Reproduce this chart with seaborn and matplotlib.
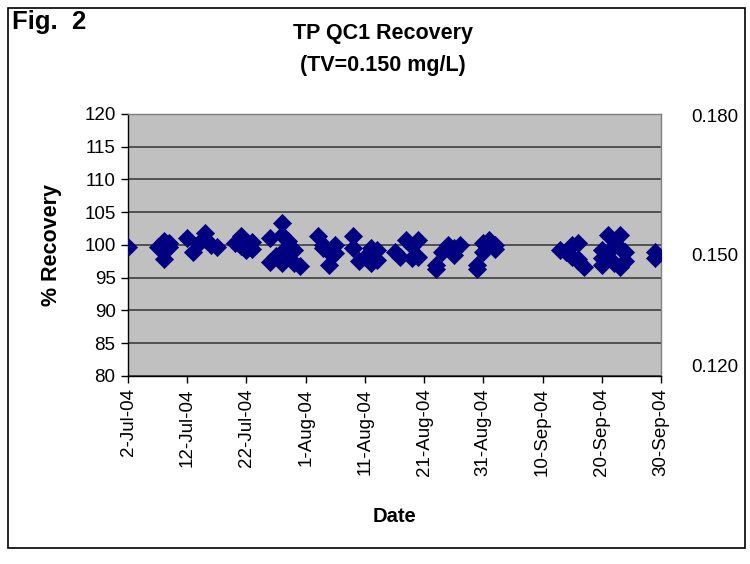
import numpy as np
import pandas as pd
import matplotlib
matplotlib.use("Agg")
import matplotlib.pyplot as plt
import matplotlib.dates as mdates
from matplotlib.patches import Rectangle
import seaborn as sns

# ---- data ----
start = "2004-07-02"
day_offsets = [0,
               5, 6, 6, 7, 7, 6,
               10, 11, 12, 13, 14, 13, 15,
               18, 19, 20, 21, 19, 21,
               24, 24, 26, 26, 26, 26, 27, 28, 28, 29, 25, 27,
               32, 33, 34, 34, 35, 33, 35,
               38, 38, 39, 41, 41, 42, 42, 40,
               45, 46, 47, 48, 49, 49, 48,
               52, 52, 53, 54, 55, 56, 55,
               59, 59, 60, 60, 61, 62, 62,
               73, 74, 75, 75, 76, 76, 77, 76,
               80, 80, 81, 81, 82, 83, 83, 84, 84, 80, 82, 83,
               89, 89]
recovery = [99.7,
            99.7, 100.6, 97.9, 99.7, 100.3, 99.2,
            101.1, 99.0, 100.3, 101.8, 100.0, 100.9, 99.7,
            100.3, 101.3, 99.2, 100.5, 99.8, 99.4,
            101.0, 97.4, 103.3, 101.5, 99.0, 97.2, 100.6, 99.2, 97.2, 96.8, 98.3, 98.5,
            101.3, 100.0, 99.0, 96.9, 100.0, 99.5, 98.8,
            101.3, 99.5, 97.5, 99.5, 97.2, 99.2, 97.7, 98.2,
            99.0, 98.2, 100.8, 98.0, 100.8, 98.2, 99.8,
            96.9, 96.4, 99.0, 100.0, 98.5, 100.0, 99.5,
            96.4, 97.0, 99.0, 100.3, 100.7, 100.0, 99.4,
            99.2, 99.0, 98.2, 100.0, 100.3, 97.9, 96.7, 97.5,
            99.2, 96.9, 101.5, 98.0, 99.8, 101.5, 96.7, 98.9, 97.5, 98.0, 97.3, 99.5,
            99.0, 98.0]
x_tick_dates = ["2004-07-02", "2004-07-12", "2004-07-22", "2004-08-01", "2004-08-11",
                "2004-08-21", "2004-08-31", "2004-09-10", "2004-09-20", "2004-09-30"]
x_tick_labels = ["2-Jul-04", "12-Jul-04", "22-Jul-04", "1-Aug-04", "11-Aug-04",
                 "21-Aug-04", "31-Aug-04", "10-Sep-04", "20-Sep-04", "30-Sep-04"]
y_ticks = [80, 85, 90, 95, 100, 105, 110, 115, 120]
right_tick_labels = ["0.120", "0.150", "0.180"]

df = pd.DataFrame({
    "Date": pd.to_datetime(start) + pd.to_timedelta(day_offsets, unit="D"),
    "Recovery": recovery,
})

# ---- style ----
sns.set_theme(style="white")
plt.rcParams["font.family"] = ["Liberation Sans", "DejaVu Sans"]
plt.rcParams["text.color"] = "black"
plt.rcParams["axes.labelcolor"] = "black"
plt.rcParams["xtick.color"] = "black"
plt.rcParams["ytick.color"] = "black"

fig = plt.figure(figsize=(7.5, 5.64), dpi=100)
ax = fig.add_axes([128/750, 1-376/564, (661-128)/750, (376-114)/564])
ax.set_facecolor("#C0C0C0")

sns.scatterplot(data=df, x="Date", y="Recovery", marker="D", s=85,
                color="#000080", edgecolor="#000080", linewidth=0.5, ax=ax,
                zorder=3, legend=False)

ax.set_ylim(80, 120)
ax.set_yticks(y_ticks)
ax.set_yticklabels([str(v) for v in y_ticks], fontsize=13.5, color="black")
ax.set_xlim(pd.to_datetime(x_tick_dates[0]), pd.to_datetime(x_tick_dates[-1]))
ax.set_xticks(pd.to_datetime(x_tick_dates))
ax.set_xticklabels(x_tick_labels, rotation=90, fontsize=13.5, color="black")
ax.grid(axis="y", color="#333333", linewidth=1.1, zorder=0)
ax.set_axisbelow(True)
ax.tick_params(axis="both", direction="out", length=5, width=1, color="black",
               labelcolor="black", left=True, bottom=True, pad=4)

for side in ["top", "right"]:
    ax.spines[side].set_color("#808080")
    ax.spines[side].set_linewidth(1)
for side in ["left", "bottom"]:
    ax.spines[side].set_color("black")
    ax.spines[side].set_linewidth(1)

ax.set_xlabel("Date", fontsize=14.5, fontweight="bold", labelpad=22, color="black")
ax.set_ylabel("% Recovery", fontsize=15.5, fontweight="bold", labelpad=16, color="black")

# right axis
ax2 = ax.twinx()
ax2.set_ylim(80, 120)
ax2.set_yticks([81.6, 98.6, 119.7])
ax2.set_yticklabels(right_tick_labels, fontsize=13.5, color="black")
ax2.tick_params(axis="y", length=0, pad=22, labelcolor="black")
for s in ax2.spines.values():
    s.set_visible(False)

# title
fig.text(383/750, 1-33/564, "TP QC1 Recovery", ha="center", va="center",
         fontsize=15.5, fontweight="bold", color="black")
fig.text(383/750, 1-65/564, "(TV=0.150 mg/L)", ha="center", va="center",
         fontsize=15.5, fontweight="bold", color="black")
fig.text(12/750, 1-22/564, "Fig.  2", ha="left", va="center",
         fontsize=18.5, fontweight="bold", color="black")

# outer frame
fig.patches.append(Rectangle((8/750, 1-548/564), (745-8)/750, (548-8)/564,
                             transform=fig.transFigure, fill=False,
                             edgecolor="black", linewidth=1.2))

fig.savefig("out.png", dpi=100)
